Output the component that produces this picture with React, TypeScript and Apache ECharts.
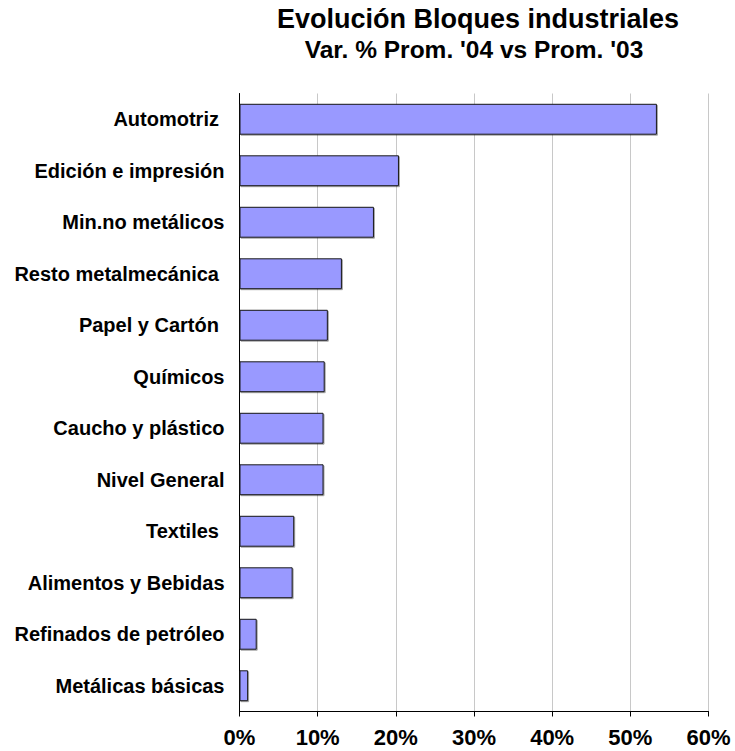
import React, { useEffect, useRef } from "react";
import * as echarts from "echarts";

const categories = [
  "Automotriz ",
  "Edición e impresión",
  "Min.no metálicos",
  "Resto metalmecánica ",
  "Papel y Cartón ",
  "Químicos",
  "Caucho y plástico",
  "Nivel General",
  "Textiles ",
  "Alimentos y Bebidas",
  "Refinados de petróleo",
  "Metálicas básicas",
];

const values = [53.4, 20.4, 17.2, 13.1, 11.3, 10.9, 10.75, 10.75, 7.0, 6.8, 2.2, 1.1];

const titleText = "Evolución Bloques industriales";
const subtitleText = "Var. % Prom. '04 vs Prom. '03";
const xMin = 0;
const xMax = 60;
const xStep = 10;

const FONT = "'Liberation Sans', Arial, sans-serif";

export default function App() {
  const ref = useRef<HTMLDivElement>(null);

  useEffect(() => {
    if (!ref.current) return;
    const chart = echarts.init(ref.current, null, { renderer: "svg" });
    chart.setOption({
      animation: false,
      backgroundColor: "#ffffff",
      graphic: [
        {
          type: "text",
          x: 478,
          y: 19,
          style: {
            text: titleText,
            fontFamily: FONT,
            fontWeight: "bold",
            fontSize: 27,
            fill: "#000",
            textAlign: "center",
            textVerticalAlign: "middle",
          },
        },
        {
          type: "text",
          x: 474,
          y: 49.5,
          style: {
            text: subtitleText,
            fontFamily: FONT,
            fontWeight: "bold",
            fontSize: 24.5,
            fill: "#000",
            textAlign: "center",
            textVerticalAlign: "middle",
          },
        },
      ],
      grid: {
        left: 239.5,
        right: 26.5,
        top: 93.5,
        bottom: 39.5,
        containLabel: false,
      },
      xAxis: {
        type: "value",
        min: xMin,
        max: xMax,
        interval: xStep,
        axisLine: { show: true, lineStyle: { color: "#000", width: 1 } },
        axisTick: { show: true, length: 5, lineStyle: { color: "#000" } },
        splitLine: { show: true, lineStyle: { color: "#c8c8c8", width: 1 } },
        axisLabel: {
          formatter: "{value}%",
          fontFamily: FONT,
          fontWeight: "bold",
          fontSize: 22,
          color: "#000",
          margin: 15,
        },
      },
      yAxis: {
        type: "category",
        data: categories,
        inverse: true,
        axisLine: { show: true, lineStyle: { color: "#000", width: 1 } },
        axisTick: { show: false },
        splitLine: { show: false },
        axisLabel: {
          fontFamily: FONT,
          fontWeight: "bold",
          fontSize: 20,
          color: "#000",
          margin: 15,
        },
      },
      series: [
        {
          type: "bar",
          data: values,
          barCategoryGap: "40%",
          itemStyle: {
            color: "#9999ff",
            borderColor: "#1a1a1a",
            borderWidth: 1,
            shadowColor: "rgba(0,0,0,0.35)",
            shadowOffsetX: 1,
            shadowOffsetY: 1,
            shadowBlur: 0,
          },
          emphasis: { disabled: true },
        },
      ],
    });
    return () => chart.dispose();
  }, []);

  return (
    <div
      ref={ref}
      style={{ position: "fixed", left: 0, top: 0, width: 735, height: 751 }}
    />
  );
}
